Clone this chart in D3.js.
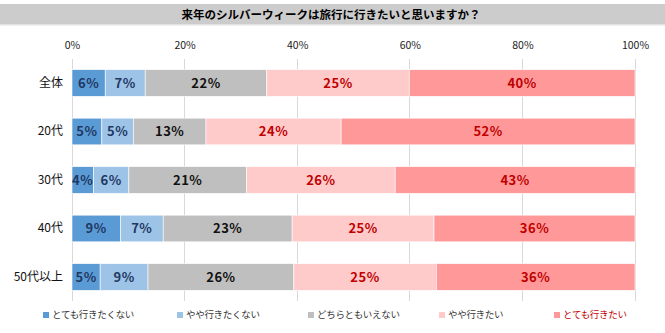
<!DOCTYPE html>
<html><head><meta charset="utf-8">
<script src="https://cdn.jsdelivr.net/npm/d3@7"></script>
<style>body{margin:0;background:#fff;} svg{display:block;font-family:"Noto Sans CJK JP","Noto Sans",sans-serif;}</style>
</head><body>
<svg id="c" width="665" height="333"></svg>
<script>
const title = "来年のシルバーウィークは旅行に行きたいと思いますか？";
const categories = ["全体","20代","30代","40代","50代以上"];
const seriesNames = ["とても行きたくない","やや行きたくない","どちらともいえない","やや行きたい","とても行きたい"];
const s1 = [5.9, 5.3, 3.8, 8.6, 5.0];
const s2 = [7.1, 5.6, 6.3, 7.6, 8.5];
const s3 = [21.6, 12.9, 20.9, 22.9, 25.9];
const s4 = [25.3, 24.0, 26.4, 25.2, 25.3];
const s5 = [40.1, 52.2, 42.6, 35.7, 35.3];
const labels1 = ["6%","5%","4%","9%","5%"];
const labels2 = ["7%","5%","6%","7%","9%"];
const labels3 = ["22%","13%","21%","23%","26%"];
const labels4 = ["25%","24%","26%","25%","25%"];
const labels5 = ["40%","52%","43%","36%","36%"];
const tickValues = [0,20,40,60,80,100];
const tickLabels = ["0%","20%","40%","60%","80%","100%"];

const colors = ["#5b9bd5","#9dc3e6","#bfbfbf","#ffcaca","#ff9999"];
const labelColors = ["#1f3864","#1f3864","#111111","#c00000","#c00000"];
const legendTextColors = ["#333","#333","#333","#333","#c00000"];

const svg = d3.select("#c");
// title band
svg.append("rect").attr("x",0).attr("y",4).attr("width",665).attr("height",20).attr("fill","#cccccc");
svg.append("rect").attr("x",0).attr("y",24).attr("width",665).attr("height",1.5).attr("fill","#e3e3e3");
svg.append("text").attr("x",331).attr("y",18.5).attr("text-anchor","middle")
  .attr("font-size",11.5).attr("font-weight","bold").attr("fill","#000").text(title);

const x = d3.scaleLinear().domain([0,100]).range([72,635]);
const y = d3.scaleBand().domain(categories).range([59,301]).paddingInner(0.45).paddingOuter(0.22);

// gridlines
svg.append("g").selectAll("line").data(tickValues).join("line")
  .attr("x1",d=>x(d)).attr("x2",d=>x(d)).attr("y1",59).attr("y2",301)
  .attr("stroke","#d9d9d9").attr("stroke-width",1).attr("shape-rendering","crispEdges");

// tick labels
const ax = svg.append("g").attr("transform","translate(0,49)")
  .call(d3.axisTop(x).tickValues(tickValues).tickFormat((d,i)=>tickLabels[i]).tickSize(0).tickPadding(0));
ax.select(".domain").remove();
ax.selectAll("text").attr("font-size",10.5).attr("fill","#222").attr("font-family","\"Noto Sans CJK JP\",sans-serif");

// category labels
const ay = svg.append("g").attr("transform","translate(63,0)")
  .call(d3.axisLeft(y).tickSize(0).tickPadding(0));
ay.select(".domain").remove();
ay.selectAll("text").attr("font-size",12).attr("fill","#111").attr("font-family","\"Noto Sans CJK JP\",sans-serif");

const series = [s1,s2,s3,s4,s5];
const labs = [labels1,labels2,labels3,labels4,labels5];
const rows = categories.map((c,i)=>{ const o={cat:c}; seriesNames.forEach((n,k)=>o[n]=series[k][i]); return o;});
const stack = d3.stack().keys(seriesNames)(rows);

stack.forEach((layer,k)=>{
  const g = svg.append("g");
  g.selectAll("rect").data(layer).join("rect")
    .attr("x",d=>x(d[0])).attr("width",d=>x(d[1])-x(d[0]))
    .attr("y",d=>y(d.data.cat)).attr("height",y.bandwidth())
    .attr("fill",colors[k]).attr("stroke","#ffffff").attr("stroke-width",0.6);
  g.selectAll("text").data(layer).join("text")
    .attr("x",d=>(x(d[0])+x(d[1]))/2).attr("y",d=>y(d.data.cat)+y.bandwidth()/2)
    .attr("dy","0.36em").attr("text-anchor","middle")
    .attr("font-size",13).attr("font-weight","bold").attr("letter-spacing","0.5px")
    .attr("fill",labelColors[k]).text((d,i)=>labs[k][i]);
});

// legend
const legX = [43,177,308,439,554];
const lg = svg.append("g").selectAll("g").data(seriesNames).join("g")
  .attr("transform",(d,i)=>`translate(${legX[i]},315)`);
lg.append("rect").attr("x",0).attr("y",-3).attr("width",6).attr("height",6).attr("fill",(d,i)=>colors[i]);
lg.append("text").attr("x",9).attr("y",0).attr("dy","0.36em").attr("font-size",9.5).attr("letter-spacing","-0.3px")
  .attr("fill",(d,i)=>legendTextColors[i]).text(d=>d);
</script>
</body></html>
